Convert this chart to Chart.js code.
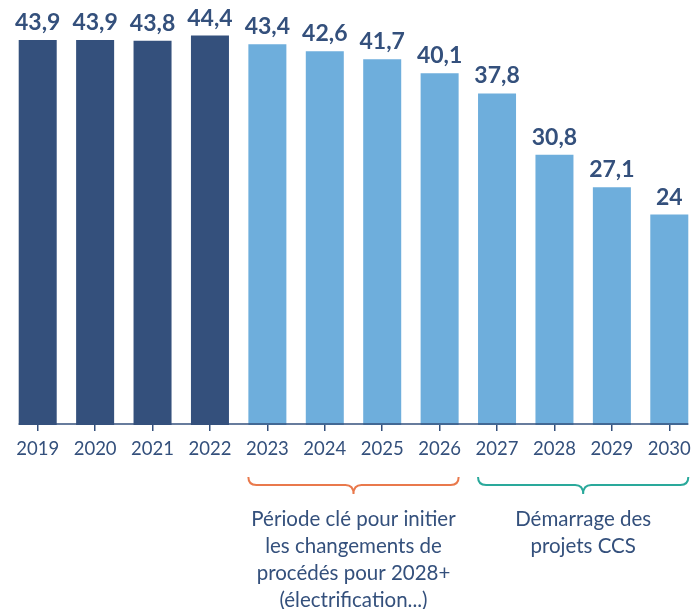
<!DOCTYPE html>
<html>
<head>
<meta charset="utf-8">
<script src="https://cdn.jsdelivr.net/npm/chart.js@4/dist/chart.umd.min.js"></script>
<style>
  html, body { margin: 0; padding: 0; background: #fff; overflow: hidden; }
  #wrap { position: relative; width: 700px; height: 609px; }
</style>
</head>
<body>
<div id="wrap"><canvas id="chart" width="700" height="609"></canvas></div>
<script>
// emissions par année (réel puis trajectoire)
const years = ['2019', '2020', '2021', '2022', '2023', '2024', '2025', '2026', '2027', '2028', '2029', '2030'];
const values = [43.9, 43.9, 43.8, 44.4, 43.4, 42.6, 41.7, 40.1, 37.8, 30.8, 27.1, 24];
const lastHistoricYear = '2022';

// annotations sous l'axe
const periodKey = { from: '2023', to: '2026', lines: ['Période clé pour initier', 'les changements de', 'procédés pour 2028+', '(électrification...)'] };
const periodCcs = { from: '2027', to: '2030', lines: ['Démarrage des', 'projets CCS'] };

const NAVY = '#34507c';
const LIGHT = '#6eaedc';
const ORANGE = '#e9794c';
const TEAL = '#2aa99b';
const FONT = 'Lato, "Open Sans", sans-serif';

const histIdx = years.indexOf(lastHistoricYear);
const barColors = years.map((y, i) => i <= histIdx ? NAVY : LIGHT);

const fmt = v => String(v).replace('.', ',');

const extras = {
  id: 'extras',
  afterDatasetsDraw(chart) {
    const ctx = chart.ctx;
    const meta = chart.getDatasetMeta(0);
    ctx.save();
    // valeurs au-dessus des barres
    ctx.fillStyle = NAVY;
    ctx.font = 'bold 23px ' + FONT;
    ctx.textAlign = 'center';
    ctx.textBaseline = 'alphabetic';
    meta.data.forEach((bar, i) => {
      ctx.fillText(fmt(values[i]), bar.x, bar.y - 10);
    });
    // ligne d'axe
    const first = meta.data[0], last = meta.data[meta.data.length - 1];
    const yBase = chart.scales.y.getPixelForValue(0) - 1;
    ctx.strokeStyle = NAVY;
    ctx.lineWidth = 1.5;
    ctx.beginPath();
    ctx.moveTo(first.x - first.width / 2, yBase);
    ctx.lineTo(last.x + last.width / 2, yBase);
    ctx.stroke();
    ctx.restore();
  },
  afterDraw(chart) {
    const ctx = chart.ctx;
    const meta = chart.getDatasetMeta(0);
    const drawBrace = (grp, color) => {
      const a = meta.data[years.indexOf(grp.from)];
      const b = meta.data[years.indexOf(grp.to)];
      const x1 = a.x - a.width / 2, x2 = b.x + b.width / 2;
      const cx = (x1 + x2) / 2;
      const yTop = 477, yMid = 485, yTip = 494;
      ctx.save();
      ctx.strokeStyle = color;
      ctx.lineWidth = 2;
      ctx.beginPath();
      ctx.moveTo(x1, yTop);
      ctx.quadraticCurveTo(x1, yMid, x1 + 8, yMid);
      ctx.lineTo(cx - 8, yMid);
      ctx.quadraticCurveTo(cx, yMid, cx, yTip);
      ctx.quadraticCurveTo(cx, yMid, cx + 8, yMid);
      ctx.lineTo(x2 - 8, yMid);
      ctx.quadraticCurveTo(x2, yMid, x2, yTop);
      ctx.stroke();
      ctx.fillStyle = NAVY;
      ctx.font = '20.5px ' + FONT;
      ctx.textAlign = 'center';
      ctx.textBaseline = 'middle';
      grp.lines.forEach((t, i) => ctx.fillText(t, cx, 519 + i * 27));
      ctx.restore();
    };
    drawBrace(periodKey, ORANGE);
    drawBrace(periodCcs, TEAL);
  }
};

new Chart(document.getElementById('chart').getContext('2d'), {
  type: 'bar',
  data: {
    labels: years,
    datasets: [{
      data: values,
      backgroundColor: barColors,
      categoryPercentage: 1,
      barPercentage: 0.662
    }]
  },
  options: {
    responsive: false,
    animation: false,
    layout: { padding: { left: 9, right: 2, top: 4, bottom: 0 } },
    plugins: { legend: { display: false }, tooltip: { enabled: false } },
    scales: {
      y: { display: false, min: 0, max: 48 },
      x: {
        afterFit(scale) { scale.height = 609 - 425; },
        border: { display: false },
        grid: { display: true, drawOnChartArea: false, offset: false, tickLength: 6, color: NAVY, lineWidth: 1.5 },
        ticks: { color: NAVY, font: { family: FONT, size: 18.5 }, padding: 7, maxRotation: 0, autoSkip: false }
      }
    }
  },
  plugins: [extras]
});
</script>
</body>
</html>
